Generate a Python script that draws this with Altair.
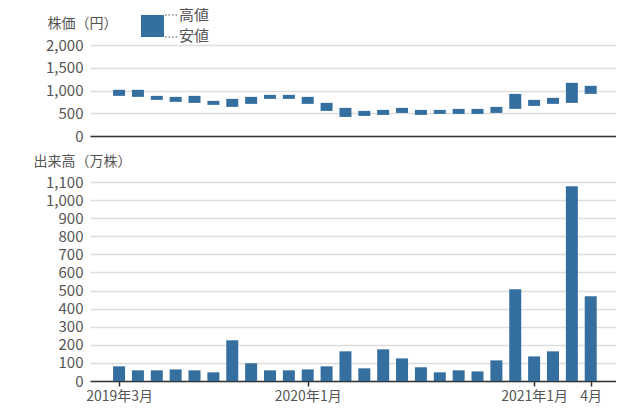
import altair as alt
import pandas as pd

# ---- data ----
months = ["2019-03", "2019-04", "2019-05", "2019-06", "2019-07", "2019-08", "2019-09",
          "2019-10", "2019-11", "2019-12", "2020-01", "2020-02", "2020-03", "2020-04",
          "2020-05", "2020-06", "2020-07", "2020-08", "2020-09", "2020-10", "2020-11",
          "2020-12", "2021-01", "2021-02", "2021-03", "2021-04"]
high = [1015, 1015, 882, 860, 882, 772, 816, 860, 904, 904, 860, 728, 618, 551, 574,
        618, 574, 574, 596, 596, 640, 926, 794, 838, 1169, 1103]
low = [882, 860, 794, 750, 728, 684, 640, 706, 816, 816, 706, 551, 419, 441, 463,
       507, 463, 485, 485, 485, 507, 596, 662, 706, 728, 926]
volume = [81, 59, 59, 64, 59, 48, 225, 98, 59, 59, 64, 81, 164, 70, 175, 125, 76, 48,
          59, 53, 114, 507, 136, 164, 1076, 468]
tick_months = ["2019-03", "2020-01", "2021-01", "2021-04"]
tick_labels = ["2019年3月", "2020年1月", "2021年1月", "4月"]
price_ticks = [0, 500, 1000, 1500, 2000]
volume_ticks = list(range(0, 1200, 100))
legend_labels = ["高値", "安値"]

df = pd.DataFrame({"month": months, "idx": list(range(len(months))),
                   "high": high, "low": low, "volume": volume})

FONT = "Noto Sans CJK JP"
BAR = "#356FA0"
TXT = "#555555"
W = 526
xscale = alt.Scale(domain=[-1.54, 26.34], nice=False, zero=False, padding=0)
tick_idx = [months.index(m) for m in tick_months]
label_expr = " : ".join(f"datum.value == {i} ? '{t}'" for i, t in zip(tick_idx, tick_labels)) + " : ''"

yaxis_common = dict(ticks=False, domain=False, grid=True, gridColor="#dddddd", gridWidth=1.5,
                    labelPadding=7, labelFontSize=15, labelColor=TXT, format=",d",
                    titleAngle=0, titleAlign="center", titleBaseline="middle",
                    titleFontSize=14, titleColor=TXT, titleFontWeight="normal", titleX=-8)

price_bars = alt.Chart(df).mark_bar(color=BAR, size=12).encode(
    x=alt.X("idx:Q", scale=xscale,
            axis=alt.Axis(labels=False, ticks=False, grid=False, title=None,
                          domainColor="#333333", domainWidth=1.5)),
    y=alt.Y("low:Q", scale=alt.Scale(domain=[0, 2000], nice=False, padding=0),
            axis=alt.Axis(values=price_ticks, title="株価（円）", titleY=-22, **yaxis_common)),
    y2="high:Q",
)

one = pd.DataFrame({"k": [0]})
leg_rect = alt.Chart(one).mark_rect(color=BAR).encode(
    x=alt.value(51), x2=alt.value(74), y=alt.value(-30), y2=alt.value(-8))
leg_rule_top = alt.Chart(one).mark_rule(color=TXT, strokeDash=[1.5, 2], strokeWidth=1.2).encode(
    x=alt.value(75), x2=alt.value(88), y=alt.value(-30))
leg_rule_bot = alt.Chart(one).mark_rule(color=TXT, strokeDash=[1.5, 2], strokeWidth=1.2).encode(
    x=alt.value(75), x2=alt.value(88), y=alt.value(-8))
leg_text = alt.Chart(pd.DataFrame({"label": legend_labels, "pos": [-30, -9]})).mark_text(
    align="left", baseline="middle", font=FONT, fontSize=15, color=TXT).encode(
    x=alt.value(89), y=alt.Y("pos:Q", scale=None), text="label:N")

price = alt.layer(price_bars, leg_rect, leg_rule_top, leg_rule_bot, leg_text).properties(
    width=W, height=91)

vol = alt.Chart(df).mark_bar(color=BAR, size=12).encode(
    x=alt.X("idx:Q", scale=xscale,
            axis=alt.Axis(values=tick_idx, labelExpr=label_expr, title=None, grid=False,
                          ticks=True, tickSize=5, tickWidth=1.5, tickColor="#333333",
                          domainColor="#333333", domainWidth=1.5, labelPadding=3,
                          labelFontSize=14, labelColor=TXT, labelFlush=False, labelOverlap=False)),
    y=alt.Y("volume:Q", scale=alt.Scale(domain=[0, 1100], nice=False, padding=0),
            axis=alt.Axis(values=volume_ticks, title="出来高（万株）", titleY=-21, **yaxis_common)),
).properties(width=W, height=199)

chart = alt.vconcat(price, vol, spacing=46, bounds="flush").properties(
    padding={"left": 25, "top": 0, "right": 0, "bottom": 0}
).configure_view(stroke=None).configure_axis(labelFont=FONT, titleFont=FONT)

chart.save("out.html", embed_options={"renderer": "svg", "actions": False})
